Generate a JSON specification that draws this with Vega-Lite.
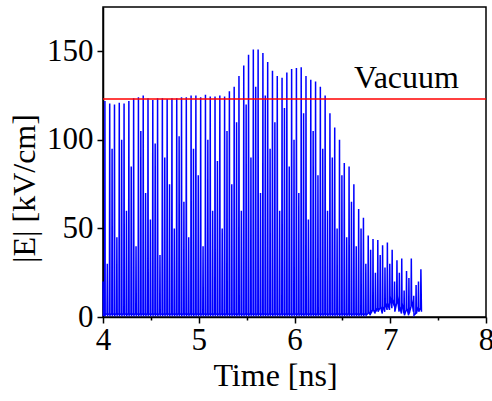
{
  "$schema": "https://vega.github.io/schema/vega-lite/v6.json",
  "width": 383,
  "height": 310,
  "autosize": "none",
  "padding": {"left": 103, "top": 7, "right": 6, "bottom": 84},
  "background": "white",
  "config": {
    "view": {"stroke": "black", "strokeWidth": 1.5},
    "font": "Liberation Serif",
    "axis": {
      "grid": false,
      "labelColor": "black",
      "titleColor": "black",
      "domainColor": "black",
      "tickColor": "black",
      "domainWidth": 1.5,
      "tickWidth": 1.5,
      "labelFontSize": 31,
      "titleFontSize": 32,
      "titleFontWeight": "normal",
      "labelFont": "Liberation Serif",
      "titleFont": "Liberation Serif"
    }
  },
  "layer": [
    {
      "data": {
        "values": [
          {"t":4.0,"E":20},{"t":4.004,"E":1},{"t":4.017,"E":1},
          {"t":4.02,"E":122},{"t":4.023,"E":1},{"t":4.042,"E":2},{"t":4.045,"E":30},{"t":4.048,"E":1},{"t":4.067,"E":2},
          {"t":4.07,"E":120.5},{"t":4.073,"E":1},{"t":4.092,"E":2},{"t":4.095,"E":95},{"t":4.098,"E":1},{"t":4.117,"E":2},
          {"t":4.12,"E":120},{"t":4.123,"E":1},{"t":4.142,"E":2},{"t":4.145,"E":45},{"t":4.148,"E":1},{"t":4.167,"E":2},
          {"t":4.17,"E":121},{"t":4.173,"E":1},{"t":4.192,"E":2},{"t":4.195,"E":100},{"t":4.198,"E":1},{"t":4.217,"E":2},
          {"t":4.22,"E":120.5},{"t":4.223,"E":1},{"t":4.242,"E":2},{"t":4.245,"E":60},{"t":4.248,"E":1},{"t":4.267,"E":2},
          {"t":4.27,"E":122},{"t":4.273,"E":1},{"t":4.292,"E":2},{"t":4.295,"E":85},{"t":4.298,"E":1},{"t":4.317,"E":2},
          {"t":4.32,"E":123.5},{"t":4.323,"E":1},{"t":4.342,"E":2},{"t":4.345,"E":40},{"t":4.348,"E":1},{"t":4.367,"E":2},
          {"t":4.37,"E":124},{"t":4.373,"E":1},{"t":4.392,"E":2},{"t":4.395,"E":105},{"t":4.398,"E":1},{"t":4.417,"E":2},
          {"t":4.42,"E":125},{"t":4.423,"E":1},{"t":4.442,"E":2},{"t":4.445,"E":70},{"t":4.448,"E":1},{"t":4.467,"E":2},
          {"t":4.47,"E":123.5},{"t":4.473,"E":1},{"t":4.492,"E":2},{"t":4.495,"E":55},{"t":4.498,"E":1},{"t":4.517,"E":2},
          {"t":4.52,"E":122.5},{"t":4.523,"E":1},{"t":4.542,"E":2},{"t":4.545,"E":98},{"t":4.548,"E":1},{"t":4.567,"E":2},
          {"t":4.57,"E":123.5},{"t":4.573,"E":1},{"t":4.592,"E":2},{"t":4.595,"E":35},{"t":4.598,"E":1},{"t":4.617,"E":2},
          {"t":4.62,"E":123.5},{"t":4.623,"E":1},{"t":4.642,"E":2},{"t":4.645,"E":90},{"t":4.648,"E":1},{"t":4.667,"E":2},
          {"t":4.67,"E":123},{"t":4.673,"E":1},{"t":4.692,"E":2},{"t":4.695,"E":75},{"t":4.698,"E":1},{"t":4.717,"E":2},
          {"t":4.72,"E":123.5},{"t":4.723,"E":1},{"t":4.742,"E":2},{"t":4.745,"E":50},{"t":4.748,"E":1},{"t":4.767,"E":2},
          {"t":4.77,"E":123.5},{"t":4.773,"E":1},{"t":4.792,"E":2},{"t":4.795,"E":102},{"t":4.798,"E":1},{"t":4.817,"E":2},
          {"t":4.82,"E":124},{"t":4.823,"E":1},{"t":4.842,"E":2},{"t":4.845,"E":65},{"t":4.848,"E":1},{"t":4.867,"E":2},
          {"t":4.87,"E":124},{"t":4.873,"E":1},{"t":4.892,"E":2},{"t":4.895,"E":45},{"t":4.898,"E":1},{"t":4.917,"E":2},
          {"t":4.92,"E":125},{"t":4.923,"E":1},{"t":4.942,"E":2},{"t":4.945,"E":95},{"t":4.948,"E":1},{"t":4.967,"E":2},
          {"t":4.97,"E":125},{"t":4.973,"E":1},{"t":4.992,"E":2},{"t":4.995,"E":80},{"t":4.998,"E":1},{"t":5.017,"E":2},
          {"t":5.02,"E":124},{"t":5.023,"E":1},{"t":5.042,"E":2},{"t":5.045,"E":40},{"t":5.048,"E":1},{"t":5.067,"E":2},
          {"t":5.07,"E":125.5},{"t":5.073,"E":1},{"t":5.092,"E":2},{"t":5.095,"E":100},{"t":5.098,"E":1},{"t":5.117,"E":2},
          {"t":5.12,"E":124.5},{"t":5.123,"E":1},{"t":5.142,"E":2},{"t":5.145,"E":60},{"t":5.148,"E":1},{"t":5.167,"E":2},
          {"t":5.17,"E":124.5},{"t":5.173,"E":1},{"t":5.192,"E":2},{"t":5.195,"E":88},{"t":5.198,"E":1},{"t":5.217,"E":2},
          {"t":5.22,"E":125},{"t":5.223,"E":1},{"t":5.242,"E":2},{"t":5.245,"E":50},{"t":5.248,"E":1},{"t":5.267,"E":2},
          {"t":5.27,"E":124.5},{"t":5.273,"E":1},{"t":5.292,"E":2},{"t":5.295,"E":105},{"t":5.298,"E":1},{"t":5.317,"E":2},
          {"t":5.32,"E":127.5},{"t":5.323,"E":1},{"t":5.342,"E":2},{"t":5.345,"E":75},{"t":5.348,"E":1},{"t":5.367,"E":2},
          {"t":5.37,"E":130},{"t":5.373,"E":1},{"t":5.392,"E":2},{"t":5.395,"E":110},{"t":5.398,"E":1},{"t":5.417,"E":2},
          {"t":5.42,"E":136},{"t":5.423,"E":1},{"t":5.442,"E":2},{"t":5.445,"E":60},{"t":5.448,"E":1},{"t":5.467,"E":2},
          {"t":5.47,"E":142},{"t":5.473,"E":1},{"t":5.492,"E":2},{"t":5.495,"E":120},{"t":5.498,"E":1},{"t":5.517,"E":2},
          {"t":5.52,"E":148},{"t":5.523,"E":1},{"t":5.542,"E":2},{"t":5.545,"E":90},{"t":5.548,"E":1},{"t":5.567,"E":2},
          {"t":5.57,"E":151},{"t":5.573,"E":1},{"t":5.592,"E":2},{"t":5.595,"E":130},{"t":5.598,"E":1},{"t":5.617,"E":2},
          {"t":5.62,"E":151},{"t":5.623,"E":1},{"t":5.642,"E":2},{"t":5.645,"E":70},{"t":5.648,"E":1},{"t":5.667,"E":2},
          {"t":5.67,"E":149},{"t":5.673,"E":1},{"t":5.692,"E":2},{"t":5.695,"E":125},{"t":5.698,"E":1},{"t":5.717,"E":2},
          {"t":5.72,"E":144},{"t":5.723,"E":1},{"t":5.742,"E":2},{"t":5.745,"E":95},{"t":5.748,"E":1},{"t":5.767,"E":2},
          {"t":5.77,"E":139},{"t":5.773,"E":1},{"t":5.792,"E":2},{"t":5.795,"E":110},{"t":5.798,"E":1},{"t":5.817,"E":2},
          {"t":5.82,"E":136},{"t":5.823,"E":1},{"t":5.842,"E":2},{"t":5.845,"E":60},{"t":5.848,"E":1},{"t":5.867,"E":2},
          {"t":5.87,"E":135},{"t":5.873,"E":1},{"t":5.892,"E":2},{"t":5.895,"E":118},{"t":5.898,"E":1},{"t":5.917,"E":2},
          {"t":5.92,"E":138},{"t":5.923,"E":1},{"t":5.942,"E":2},{"t":5.945,"E":85},{"t":5.948,"E":1},{"t":5.967,"E":2},
          {"t":5.97,"E":140},{"t":5.973,"E":1},{"t":5.992,"E":2},{"t":5.995,"E":100},{"t":5.998,"E":1},{"t":6.017,"E":2},
          {"t":6.02,"E":140.5},{"t":6.023,"E":1},{"t":6.042,"E":2},{"t":6.045,"E":70},{"t":6.048,"E":1},{"t":6.067,"E":2},
          {"t":6.07,"E":141},{"t":6.073,"E":1},{"t":6.092,"E":2},{"t":6.095,"E":115},{"t":6.098,"E":1},{"t":6.117,"E":2},
          {"t":6.12,"E":136},{"t":6.123,"E":1},{"t":6.142,"E":2},{"t":6.145,"E":55},{"t":6.148,"E":1},{"t":6.167,"E":2},
          {"t":6.17,"E":134},{"t":6.173,"E":1},{"t":6.192,"E":2},{"t":6.195,"E":105},{"t":6.198,"E":1},{"t":6.217,"E":2},
          {"t":6.22,"E":133},{"t":6.223,"E":1},{"t":6.242,"E":2},{"t":6.245,"E":80},{"t":6.248,"E":1},{"t":6.267,"E":2},
          {"t":6.27,"E":130},{"t":6.273,"E":1},{"t":6.292,"E":2},{"t":6.295,"E":95},{"t":6.298,"E":1},{"t":6.317,"E":2},
          {"t":6.32,"E":125},{"t":6.323,"E":1},{"t":6.342,"E":2},{"t":6.345,"E":60},{"t":6.348,"E":1},{"t":6.367,"E":2},
          {"t":6.37,"E":115},{"t":6.373,"E":1},{"t":6.392,"E":2},{"t":6.395,"E":90},{"t":6.398,"E":1},{"t":6.417,"E":2},
          {"t":6.42,"E":107},{"t":6.423,"E":1},{"t":6.442,"E":2},{"t":6.445,"E":50},{"t":6.448,"E":1},{"t":6.467,"E":2},
          {"t":6.47,"E":100},{"t":6.473,"E":1},{"t":6.492,"E":2},{"t":6.495,"E":80},{"t":6.498,"E":1},{"t":6.517,"E":2},
          {"t":6.52,"E":87},{"t":6.523,"E":1},{"t":6.542,"E":2},{"t":6.545,"E":45},{"t":6.548,"E":1},{"t":6.567,"E":2},
          {"t":6.57,"E":85},{"t":6.573,"E":1},{"t":6.592,"E":2},{"t":6.595,"E":65},{"t":6.598,"E":1},{"t":6.617,"E":2},
          {"t":6.62,"E":75},{"t":6.623,"E":1},{"t":6.642,"E":2},{"t":6.645,"E":40},{"t":6.648,"E":1},{"t":6.667,"E":2},
          {"t":6.67,"E":61},{"t":6.673,"E":1},{"t":6.692,"E":2},{"t":6.695,"E":50},{"t":6.698,"E":1},{"t":6.717,"E":2},
          {"t":6.72,"E":56},{"t":6.723,"E":1},{"t":6.742,"E":2},{"t":6.745,"E":30},{"t":6.748,"E":1},{"t":6.767,"E":2},
          {"t":6.77,"E":46},{"t":6.773,"E":3},{"t":6.792,"E":1},{"t":6.795,"E":38},{"t":6.798,"E":2},{"t":6.817,"E":4},
          {"t":6.82,"E":44},{"t":6.823,"E":4},{"t":6.842,"E":2},{"t":6.845,"E":25},{"t":6.848,"E":3},{"t":6.867,"E":5},
          {"t":6.87,"E":43.5},{"t":6.873,"E":3},{"t":6.892,"E":5},{"t":6.895,"E":35},{"t":6.898,"E":6},{"t":6.917,"E":2},
          {"t":6.92,"E":40.5},{"t":6.923,"E":6},{"t":6.942,"E":3},{"t":6.945,"E":28},{"t":6.948,"E":8},{"t":6.967,"E":4},
          {"t":6.97,"E":42},{"t":6.973,"E":8},{"t":6.992,"E":4},{"t":6.995,"E":30},{"t":6.998,"E":12},{"t":7.017,"E":5},
          {"t":7.02,"E":38},{"t":7.023,"E":10},{"t":7.042,"E":6},{"t":7.045,"E":20},{"t":7.048,"E":3},{"t":7.067,"E":8},
          {"t":7.07,"E":32},{"t":7.073,"E":12},{"t":7.092,"E":3},{"t":7.095,"E":25},{"t":7.098,"E":6},{"t":7.117,"E":2},
          {"t":7.12,"E":33},{"t":7.123,"E":8},{"t":7.142,"E":2},{"t":7.145,"E":15},{"t":7.148,"E":1},{"t":7.167,"E":4},
          {"t":7.17,"E":26},{"t":7.173,"E":5},{"t":7.192,"E":1},{"t":7.195,"E":22},{"t":7.198,"E":2},{"t":7.217,"E":6},
          {"t":7.22,"E":33},{"t":7.223,"E":10},{"t":7.242,"E":3},{"t":7.245,"E":12},{"t":7.248,"E":1},{"t":7.267,"E":2},
          {"t":7.27,"E":18},{"t":7.273,"E":2},{"t":7.292,"E":6},{"t":7.295,"E":20},{"t":7.298,"E":3},{"t":7.317,"E":5},
          {"t":7.32,"E":27},{"t":7.326,"E":3}
        ]
      },
      "mark": {"type": "line", "color": "#0000ff", "strokeWidth": 1.5},
      "encoding": {
        "x": {
          "field": "t",
          "type": "quantitative",
          "scale": {"domain": [4, 8], "nice": false, "zero": false},
          "axis": {
            "title": "Time [ns]",
            "titleX": 172,
            "titleAlign": "center",
            "values": [4, 4.5, 5, 5.5, 6, 6.5, 7, 7.5, 8],
            "labelExpr": "datum.value % 1 ? '' : format(datum.value, 'd')",
            "tickSize": {"condition": {"test": "datum.value % 1 !== 0", "value": 3}, "value": 6},
            "labelPadding": 2,
            "titlePadding": 5,
            "labelFlush": false
          }
        },
        "y": {
          "field": "E",
          "type": "quantitative",
          "scale": {"domain": [0, 175], "nice": false},
          "axis": {
            "title": "|E| [kV/cm]",
            "titleY": 181,
            "values": [0, 50, 100, 150],
            "tickSize": 6,
            "labelPadding": 4,
            "titlePadding": 5,
            "labelFlush": false
          }
        }
      }
    },
    {
      "data": {"values": [{}]},
      "mark": {"type": "rule", "color": "#ff0000", "strokeWidth": 1.5},
      "encoding": {
        "y": {"datum": 123, "type": "quantitative"}
      }
    },
    {
      "data": {"values": [{}]},
      "mark": {"type": "text", "font": "Liberation Serif", "fontSize": 32, "color": "black", "align": "center", "baseline": "alphabetic"},
      "encoding": {
        "x": {"datum": 7.17, "type": "quantitative"},
        "y": {"datum": 129.4, "type": "quantitative"},
        "text": {"value": "Vacuum"}
      }
    }
  ]
}
